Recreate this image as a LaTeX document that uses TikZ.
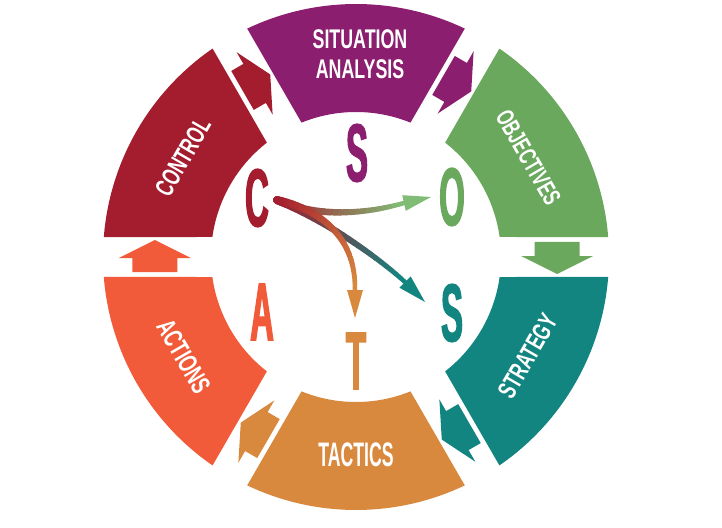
\documentclass[tikz,border=0pt]{standalone}
\usepackage{fontspec}
\setmainfont{Liberation Sans}
\newfontfamily\bigletters[FakeStretch=0.40,FakeBold=1.5]{Liberation Sans}
\newfontfamily\labfont[FakeStretch=0.66]{Liberation Sans}
\newfontfamily\labfontn[FakeStretch=0.52]{Liberation Sans}
\usetikzlibrary{calc}
\definecolor{cpurple}{RGB}{139,30,110}
\definecolor{cgreen}{RGB}{106,168,94}
\definecolor{cgreenl}{RGB}{128,188,118}
\definecolor{cteal}{RGB}{19,133,128}
\definecolor{corange}{RGB}{217,137,62}
\definecolor{cored}{RGB}{242,91,58}
\definecolor{cctrl}{RGB}{163,29,46}
\tikzset{
  bigletter/.style={font=\bigletters\bfseries\fontsize{82}{82}\selectfont, inner sep=0pt},
  seglabel/.style={text=white, inner sep=0pt, align=center},
}
% segment centred at angle #1
\newcommand\ringseg[2]{%
  \fill[#2] ({#1+25.47}:253pt) arc[start angle={#1+25.47}, end angle={#1-25.47}, radius=253pt]
    -- ({#1-22.07}:145pt) arc[start angle={#1-22.07}, end angle={#1+22.07}, radius=145pt] -- cycle;}
% block arrow in gap at angle #1
\newcommand\gaparrow[2]{%
  \fill[#2, shift={(#1:201pt)}, rotate={#1-90}]
    (-15,-22.5) -- (-1,-22.5) -- (-1,-36) -- (17,0) -- (-1,36) -- (-1,22.5) -- (-15,22.5) -- cycle;}
% gradient arrow: name, start, c1, c2, base, tip, colour
\newcommand\gradarrow[7]{%
  \foreach \i in {0,...,24}{\path #2 .. controls #3 and #4 .. #5 coordinate[pos=\i/24] (#1\i);}
  \foreach \i in {0,...,23}{%
    \pgfmathtruncatemacro\j{\i+1}%
    \pgfmathtruncatemacro\p{round(\i*100/23)}%
    \pgfmathsetmacro\w{8-3.5*\i/23}%
    \draw[line width=\w pt, draw=#7!\p!cctrl, line cap=round] (#1\i) -- (#1\j);}
  \fill[#7] #6 -- ($#5!8pt!90:#6$) -- ($#5!8pt!-90:#6$) -- cycle;}
\begin{document}
\begin{tikzpicture}[x=1pt,y=1pt]
\useasboundingbox (-356,-270) rectangle (366,257);
% ring segments
\ringseg{90}{cpurple}
\ringseg{30}{cgreen}
\ringseg{-30}{cteal}
\ringseg{-90}{corange}
\ringseg{-150}{cored}
\ringseg{150}{cctrl}
% gap arrows
\gaparrow{60}{cpurple}
\gaparrow{0}{cgreen}
\gaparrow{-60}{cteal}
\gaparrow{-120}{corange}
\gaparrow{180}{cored}
\gaparrow{120}{cctrl}
% labels
\node[seglabel, font=\labfont\bfseries\fontsize{27}{30}\selectfont] (lsit) at (4,203) {SITUATION\\ANALYSIS};
\node[seglabel, font=\labfont\bfseries\fontsize{25}{25}\selectfont, rotate=-60] (lobj) at (30:199pt) {OBJECTIVES};
\node[seglabel, font=\labfont\bfseries\fontsize{26}{26}\selectfont, rotate=60] (lstr) at (-30:198pt) {STRATEGY};
\node[seglabel, font=\labfontn\bfseries\fontsize{34}{34}\selectfont] (ltac) at (0,-198) {TACTICS};
\node[seglabel, font=\labfont\bfseries\fontsize{27}{27}\selectfont, rotate=-60] (lact) at (210:199pt) {ACTIONS};
\node[seglabel, font=\labfont\bfseries\fontsize{26}{26}\selectfont, rotate=60] (lcon) at (150:200pt) {CONTROL};
% big letters
\node[bigletter, text=cpurple] (bS) at (1,104) {S};
\node[bigletter, text=cgreen] (bO) at (96,60) {O};
\node[bigletter, text=cteal] (bS2) at (96,-56) {S};
\node[bigletter, text=corange] (bT) at (0,-104) {T};
\node[bigletter, text=cored] (bA) at (-94,-55) {A};
\node[bigletter, text=cctrl] (bC) at (-99,59) {C};
% central arrows
\coordinate (cstart) at (-79,57);
\coordinate (obase) at (48,54);
\coordinate (otip) at (75,60);
\coordinate (sbase) at (49,-25);
\coordinate (stip) at (69,-45);
\coordinate (tbase) at (-1,-33);
\coordinate (ttip) at (-1,-61);
\gradarrow{ao}{(cstart)}{(-40,39)}{(10,43)}{(obase)}{(otip)}{cgreenl}
\gradarrow{as}{(cstart)}{(-40,41)}{(15,6)}{(sbase)}{(stip)}{cteal}
\gradarrow{at}{(cstart)}{(-38,48)}{(0,22)}{(tbase)}{(ttip)}{corange}
\end{tikzpicture}
\end{document}
